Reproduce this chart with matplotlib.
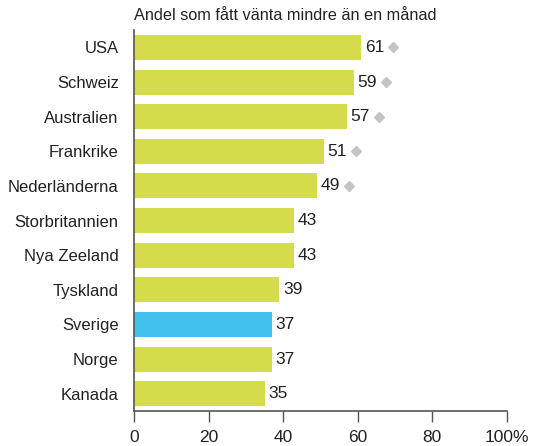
import matplotlib.pyplot as plt
from matplotlib import transforms

countries = ["USA", "Schweiz", "Australien", "Frankrike", "Nederländerna",
             "Storbritannien", "Nya Zeeland", "Tyskland", "Sverige", "Norge", "Kanada"]
values = [61, 59, 57, 51, 49, 43, 43, 39, 37, 37, 35]
marked = [True, True, True, True, True, False, False, False, False, False, False]
xticks = [0, 20, 40, 60, 80, 100]
xticklabels = ["0", "20", "40", "60", "80", "100%"]

green = "#d4dc4c"
blue = "#40c0ec"
axis_col = "#555555"

plt.rcParams["font.family"] = ["Liberation Sans", "DejaVu Sans"]

fig = plt.figure(figsize=(5.35, 4.46), dpi=100)
ax = fig.add_axes([0.2505, 0.0785, 0.697, 0.854])

colors = [blue if c == "Sverige" else green for c in countries]
ypos = list(range(len(countries)))
ax.barh(ypos, values, height=0.72, color=colors, zorder=2)

for y, v, m in zip(ypos, values, marked):
    ax.annotate(str(v), (v, y), xytext=(2.5, 0), textcoords="offset points",
                va="center", ha="left", fontsize=12.5, color="#222222")
    if m:
        tr = transforms.offset_copy(ax.transData, fig=fig, x=32, y=0, units="dots")
        ax.plot([v], [y], marker="D", markersize=5.5, color="#c4c4c4",
                transform=tr, clip_on=False, zorder=3)

ax.set_ylim(len(countries) - 0.5, -0.5)
ax.set_xlim(0, 100)
ax.set_yticks(ypos)
ax.set_yticklabels(countries, fontsize=12, color="#222222")
ax.tick_params(axis="y", length=0, pad=11)
ax.set_xticks(xticks)
ax.set_xticklabels(xticklabels, fontsize=12.5, color="#222222")
ax.tick_params(axis="x", length=8, width=1, color=axis_col, direction="out", pad=6)

for side in ["top", "right"]:
    ax.spines[side].set_visible(False)
for side in ["left", "bottom"]:
    ax.spines[side].set_color(axis_col)
    ax.spines[side].set_linewidth(1.2)

fig.text(0.2505, 0.965, "Andel som fått vänta mindre än en månad",
         fontsize=11.7, color="#222222", ha="left", va="center")

fig.savefig("out.png", dpi=100)
